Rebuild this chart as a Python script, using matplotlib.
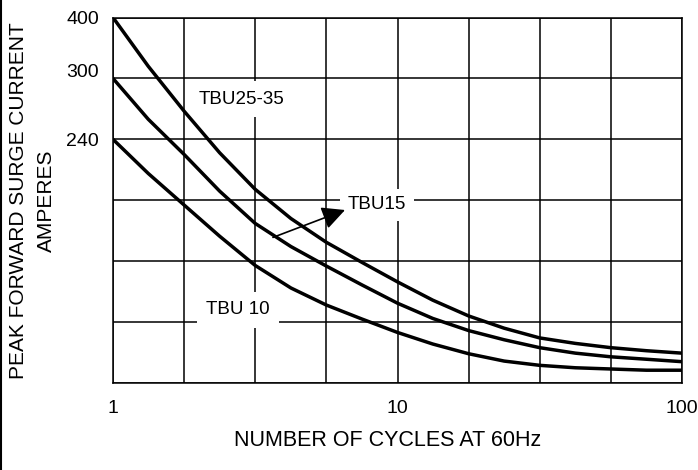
import numpy as np
import matplotlib
matplotlib.use('Agg')
import matplotlib.pyplot as plt
from matplotlib.lines import Line2D
from matplotlib.transforms import ScaledTranslation

plt.rcParams['font.family'] = ['Liberation Sans', 'DejaVu Sans']

# curves every 1/8 decade; level is in grid divisions (0 = bottom, 6 = top)
cycles = [1, 1.33, 1.78, 2.37, 3.16, 4.22, 5.62, 7.5, 10,
          13.3, 17.8, 23.7, 31.6, 42.2, 56.2, 75, 100]

tbu2535_level = [6.0, 5.20, 4.46, 3.78, 3.18, 2.70, 2.31, 1.98, 1.66,
                 1.36, 1.10, 0.90, 0.74, 0.65, 0.58, 0.53, 0.49]
tbu15_level = [5.0, 4.33, 3.75, 3.15, 2.62, 2.24, 1.92, 1.61, 1.31,
               1.06, 0.86, 0.71, 0.58, 0.49, 0.43, 0.39, 0.35]
tbu10_level = [4.0, 3.44, 2.92, 2.41, 1.93, 1.56, 1.28, 1.05, 0.83,
               0.64, 0.48, 0.36, 0.29, 0.25, 0.23, 0.21, 0.21]

y_tick_labels = ['', '', '', '', '240', '300', '400']
x_tick_labels = ['1', '', '', '', '10', '', '', '', '100']

fig = plt.figure(figsize=(6.98, 4.70), dpi=100)
ax = fig.add_axes([113/698, 1 - 383/470, (682 - 113)/698, (383 - 17.5)/470])

for ys in [tbu2535_level, tbu15_level, tbu10_level]:
    ax.plot(cycles, ys, color='black', lw=2.5, solid_joinstyle='round',
            solid_capstyle='butt', zorder=4)

ax.set_xscale('log')
ax.set_xlim(1, 100)
ax.set_ylim(0, 6)
ax.set_xticks(10 ** (np.arange(9) / 4))
ax.set_xticklabels(x_tick_labels)
ax.xaxis.set_minor_locator(matplotlib.ticker.NullLocator())
ax.set_yticks(np.arange(7))
ax.set_yticklabels(y_tick_labels)
ax.tick_params(length=0, labelsize=14, colors='black')
ax.tick_params(axis='x', pad=12)
ax.tick_params(axis='y', pad=10)
ax.grid(True, color='black', lw=1.1)
ax.set_axisbelow(True)
for s in ax.spines.values():
    s.set_color('black')
    s.set_linewidth(1.1)

# the 300 label sits a little above its grid line
lab300 = ax.get_yticklabels()[5]
lab300.set_transform(lab300.get_transform() + ScaledTranslation(0, 8/100, fig.dpi_scale_trans))

box = dict(boxstyle='square,pad=0.5', fc='white', ec='none')
ax.text(2.84, 4.66, 'TBU25-35', fontsize=13.5, ha='center', va='center', bbox=box, zorder=3)
ax.text(8.47, 2.93, 'TBU15', fontsize=13.5, ha='center', va='center',
        bbox=dict(boxstyle='square,pad=0.4', fc='white', ec='none'), zorder=3)
ax.text(2.75, 1.20, 'TBU 10', fontsize=13.5, ha='center', va='center', bbox=box, zorder=3)
ax.annotate('', xy=(6.54, 2.84), xytext=(3.65, 2.39),
            arrowprops=dict(arrowstyle='-|>,head_length=1.0,head_width=0.5',
                            color='black', lw=1.2, shrinkA=0, shrinkB=0,
                            mutation_scale=14), zorder=5)

fig.text(19/698, 1 - 201/470, 'PEAK FORWARD SURGE CURRENT', rotation=90,
         fontsize=15, ha='center', va='center')
fig.text(46/698, 1 - 201/470, 'AMPERES', rotation=90,
         fontsize=15, ha='center', va='center')
fig.text(388/698, 1 - 441/470, 'NUMBER OF CYCLES AT 60Hz',
         fontsize=15.5, ha='center', va='center')

fig.add_artist(Line2D([0.002, 0.002], [0, 1], transform=fig.transFigure,
                      color='black', lw=1.5))

fig.savefig('out.png', dpi=100)
